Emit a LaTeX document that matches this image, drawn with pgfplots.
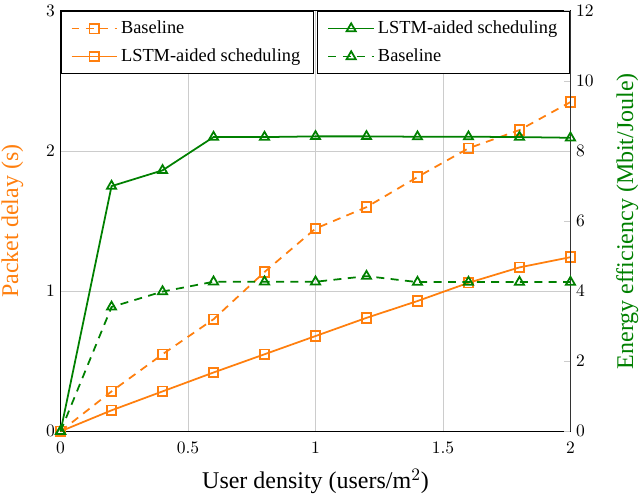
\documentclass[border=0pt]{standalone}
\usepackage{pgfplots}
\pgfplotsset{compat=1.18}
\usepackage{fontspec}
\setmainfont{Liberation Serif}
\definecolor{myorange}{RGB}{255,127,14}
\definecolor{mygreen}{RGB}{0,128,0}
\pgfplotsset{
  every axis/.append style={
    width=319pt, height=263pt, scale only axis,
    xmin=0, xmax=2,
    tick label style={font=\fontsize{10.5}{12}\selectfont},
    label style={font=\fontsize{15}{18}\selectfont},
    legend style={font=\fontsize{11.5}{14}\selectfont, draw=black, line width=0.6pt, inner xsep=6pt, inner ysep=4pt, row sep=4pt},
    legend cell align=left,
    legend image code/.code={\draw[mark repeat=2,mark phase=2] plot coordinates {(0cm,0cm)(0.5cm,0cm)(1.0cm,0cm)};},
    clip=false,
  },
  dsh/.style={dash pattern=on 5pt off 4pt},
}
\begin{document}
\begin{tikzpicture}
\begin{axis}[
  ymin=0, ymax=3,
  xtick={0,0.5,1,1.5,2}, ytick={0,1,2,3},
  xtick pos=bottom, ytick pos=left,
  grid=major, grid style={black!20, line width=0.6pt},
  tick style={black!20},
  axis line style={black, line width=0.6pt},
  xticklabel style={yshift=-3pt},
  xlabel={User density (users/m$^2$)},
  xlabel style={yshift=-3pt},
  ylabel={Packet delay (s)},
  ylabel style={color=myorange, inner sep=1pt, yshift=9.7pt},
  legend style={at={(0,1)}, anchor=north west},
]
\addplot[myorange, line width=1.1pt, dsh, mark=square, mark size=3pt, mark options={solid}] coordinates {
(0,0) (0.2,0.285) (0.4,0.55) (0.6,0.80) (0.8,1.137) (1.0,1.447) (1.2,1.60) (1.4,1.815) (1.6,2.02) (1.8,2.15) (2.0,2.35)};
\addlegendentry{Baseline}
\addplot[myorange, line width=1.1pt, mark=square, mark size=3pt] coordinates {
(0,0) (0.2,0.15) (0.4,0.285) (0.6,0.42) (0.8,0.55) (1.0,0.68) (1.2,0.81) (1.4,0.93) (1.6,1.06) (1.8,1.17) (2.0,1.243)};
\addlegendentry{LSTM-aided scheduling}
\end{axis}
\begin{axis}[
  ymin=0, ymax=12,
  ytick={0,2,4,6,8,10,12},
  axis x line=none, axis y line*=right,
  tick style={black!20, line width=0.6pt},
  axis line style={black!80, line width=0.6pt},
  ylabel={Energy efficiency (Mbit/Joule)},
  ylabel style={color=mygreen, inner sep=1pt, yshift=-9.7pt},
  legend style={at={(1,1)}, anchor=north east},
]
\addplot[mygreen, line width=1.1pt, mark=triangle, mark size=3.3pt] coordinates {
(0,0) (0.2,7.0) (0.4,7.45) (0.6,8.4) (0.8,8.4) (1.0,8.42) (1.2,8.42) (1.4,8.41) (1.6,8.41) (1.8,8.4) (2.0,8.38)};
\addlegendentry{LSTM-aided scheduling}
\addplot[mygreen, line width=1.1pt, dsh, mark=triangle, mark size=3.3pt, mark options={solid}] coordinates {
(0,0) (0.2,3.55) (0.4,3.99) (0.6,4.27) (0.8,4.27) (1.0,4.27) (1.2,4.43) (1.4,4.26) (1.6,4.26) (1.8,4.26) (2.0,4.26)};
\addlegendentry{Baseline}
\end{axis}
\end{tikzpicture}
\end{document}
